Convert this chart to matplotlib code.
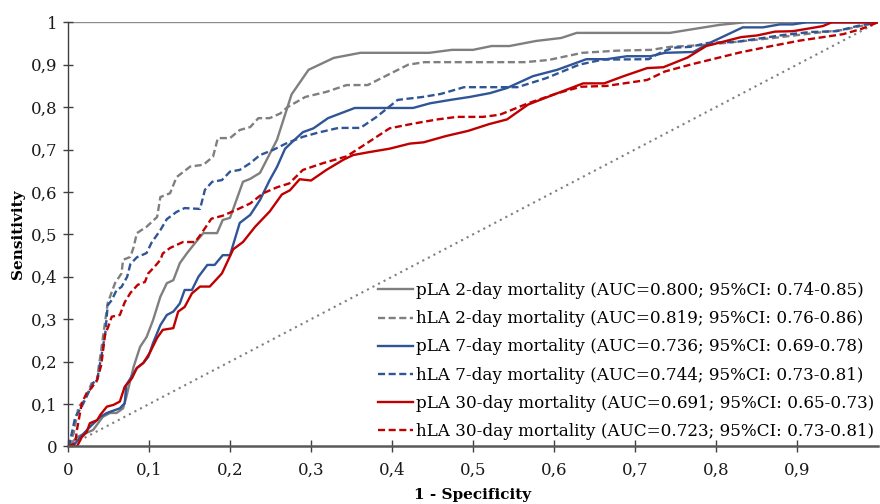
import matplotlib
matplotlib.use('Agg')
import matplotlib.pyplot as plt

plt.rcParams['font.family'] = ['DejaVu Serif']

# ROC points (1 - specificity, sensitivity)
pla2_x = [0, 0.011, 0.031, 0.043, 0.052, 0.06, 0.068, 0.072, 0.081, 0.089, 0.097, 0.105, 0.114,
          0.122, 0.13, 0.138, 0.147, 0.157, 0.167, 0.184, 0.191, 0.2, 0.216, 0.225, 0.237, 0.258,
          0.276, 0.297, 0.328, 0.361, 0.446, 0.474, 0.5, 0.523, 0.545, 0.578, 0.609, 0.628, 0.743,
          0.772, 0.805, 0.836, 1]
pla2_y = [0, 0.022, 0.039, 0.07, 0.079, 0.079, 0.09, 0.117, 0.188, 0.235, 0.258, 0.298, 0.353,
          0.385, 0.392, 0.432, 0.456, 0.48, 0.503, 0.503, 0.534, 0.539, 0.624, 0.631, 0.645, 0.723,
          0.83, 0.888, 0.916, 0.928, 0.928, 0.935, 0.935, 0.944, 0.944, 0.956, 0.963, 0.975, 0.975,
          0.984, 0.994, 1, 1]

hla2_x = [0, 0.007, 0.013, 0.021, 0.029, 0.035, 0.041, 0.049, 0.058, 0.066, 0.068, 0.077, 0.081,
          0.085, 0.097, 0.11, 0.114, 0.126, 0.134, 0.151, 0.167, 0.179, 0.185, 0.2, 0.212, 0.225,
          0.235, 0.249, 0.262, 0.271, 0.293, 0.319, 0.344, 0.37, 0.399, 0.42, 0.44, 0.564, 0.593,
          0.635, 0.677, 0.72, 0.743, 0.781, 0.81, 0.871, 0.923, 0.957, 1]
hla2_y = [0, 0.031, 0.094, 0.11, 0.149, 0.149, 0.228, 0.338, 0.385, 0.408, 0.44, 0.447, 0.47,
          0.503, 0.518, 0.541, 0.588, 0.597, 0.635, 0.66, 0.664, 0.683, 0.727, 0.727, 0.746, 0.753,
          0.774, 0.774, 0.785, 0.8, 0.824, 0.836, 0.852, 0.852, 0.88, 0.9, 0.906, 0.906, 0.911,
          0.928, 0.933, 0.935, 0.942, 0.946, 0.951, 0.963, 0.975, 0.982, 1]

pla7_x = [0, 0.006, 0.015, 0.027, 0.04, 0.048, 0.064, 0.07, 0.072, 0.085, 0.093, 0.099, 0.105,
          0.114, 0.122, 0.13, 0.138, 0.144, 0.153, 0.161, 0.172, 0.181, 0.191, 0.2, 0.212, 0.225,
          0.237, 0.249, 0.258, 0.268, 0.278, 0.29, 0.303, 0.321, 0.354, 0.426, 0.447, 0.472, 0.496,
          0.521, 0.542, 0.574, 0.604, 0.64, 0.665, 0.69, 0.719, 0.737, 0.772, 0.793, 0.833, 0.858,
          0.879, 0.895, 0.912, 1]
pla7_y = [0, 0, 0.022, 0.046, 0.07, 0.079, 0.09, 0.102, 0.145, 0.185, 0.197, 0.211, 0.244,
          0.286, 0.31, 0.318, 0.337, 0.369, 0.369, 0.4, 0.428, 0.428, 0.451, 0.451, 0.527, 0.546,
          0.581, 0.628, 0.659, 0.702, 0.72, 0.741, 0.75, 0.774, 0.798, 0.798, 0.809, 0.817, 0.824,
          0.833, 0.845, 0.873, 0.888, 0.913, 0.913, 0.92, 0.92, 0.928, 0.93, 0.952, 0.988, 0.988,
          0.995, 0.995, 1, 1]

hla7_x = [0, 0.002, 0.009, 0.017, 0.025, 0.031, 0.036, 0.041, 0.046, 0.049, 0.054, 0.06, 0.066,
          0.073, 0.077, 0.085, 0.097, 0.103, 0.114, 0.122, 0.134, 0.144, 0.163, 0.169, 0.178, 0.19,
          0.2, 0.212, 0.225, 0.237, 0.253, 0.27, 0.29, 0.309, 0.334, 0.361, 0.381, 0.407, 0.438,
          0.46, 0.489, 0.555, 0.59, 0.631, 0.66, 0.717, 0.731, 0.747, 0.768, 0.789, 0.826, 0.851,
          0.883, 0.916, 0.949, 0.974, 1]
hla7_y = [0, 0.008, 0.07, 0.094, 0.126, 0.15, 0.157, 0.211, 0.267, 0.333, 0.345, 0.369, 0.376,
          0.4, 0.43, 0.446, 0.456, 0.48, 0.51, 0.536, 0.553, 0.562, 0.56, 0.605, 0.624, 0.628,
          0.648, 0.652, 0.668, 0.687, 0.699, 0.715, 0.73, 0.74, 0.751, 0.751, 0.777, 0.817, 0.824,
          0.831, 0.847, 0.847, 0.868, 0.9, 0.912, 0.913, 0.928, 0.94, 0.942, 0.951, 0.954, 0.961,
          0.97, 0.977, 0.979, 0.991, 1]

pla30_x = [0, 0.005, 0.011, 0.017, 0.023, 0.027, 0.036, 0.04, 0.048, 0.056, 0.064, 0.07, 0.079,
           0.085, 0.093, 0.101, 0.11, 0.117, 0.13, 0.136, 0.144, 0.153, 0.163, 0.175, 0.19, 0.204,
           0.216, 0.231, 0.249, 0.264, 0.274, 0.286, 0.3, 0.319, 0.34, 0.352, 0.372, 0.397, 0.422,
           0.439, 0.467, 0.494, 0.52, 0.542, 0.568, 0.595, 0.636, 0.662, 0.686, 0.715, 0.735, 0.765,
           0.788, 0.831, 0.851, 0.873, 0.895, 0.932, 0.943, 1]
pla30_y = [0, 0, 0, 0.022, 0.034, 0.055, 0.062, 0.075, 0.094, 0.098, 0.106, 0.141, 0.161,
           0.185, 0.197, 0.221, 0.256, 0.275, 0.279, 0.318, 0.329, 0.361, 0.377, 0.377, 0.408, 0.465,
           0.482, 0.518, 0.554, 0.594, 0.604, 0.63, 0.627, 0.652, 0.676, 0.687, 0.694, 0.702, 0.714,
           0.717, 0.732, 0.744, 0.76, 0.771, 0.806, 0.826, 0.856, 0.856, 0.873, 0.892, 0.894, 0.917,
           0.944, 0.965, 0.969, 0.978, 0.979, 0.991, 1, 1]

hla30_x = [0, 0.009, 0.011, 0.017, 0.023, 0.029, 0.036, 0.041, 0.046, 0.049, 0.054, 0.064, 0.07,
           0.077, 0.086, 0.095, 0.099, 0.107, 0.114, 0.117, 0.126, 0.142, 0.157, 0.165, 0.177, 0.191,
           0.208, 0.225, 0.241, 0.258, 0.273, 0.29, 0.315, 0.344, 0.369, 0.397, 0.426, 0.456, 0.48,
           0.512, 0.533, 0.568, 0.603, 0.633, 0.665, 0.69, 0.715, 0.737, 0.77, 0.8, 0.83, 0.866,
           0.904, 0.957, 0.979, 1]
hla30_y = [0, 0.008, 0.039, 0.102, 0.126, 0.138, 0.157, 0.192, 0.267, 0.279, 0.306, 0.31, 0.34,
           0.362, 0.381, 0.388, 0.408, 0.424, 0.44, 0.455, 0.468, 0.482, 0.482, 0.503, 0.537, 0.544,
           0.558, 0.573, 0.597, 0.611, 0.62, 0.652, 0.668, 0.684, 0.715, 0.75, 0.761, 0.771, 0.777,
           0.777, 0.782, 0.809, 0.832, 0.848, 0.85, 0.857, 0.864, 0.884, 0.901, 0.915, 0.929, 0.943,
           0.957, 0.972, 0.984, 1]

labels = ['pLA 2-day mortality (AUC=0.800; 95%CI: 0.74-0.85)',
          'hLA 2-day mortality (AUC=0.819; 95%CI: 0.76-0.86)',
          'pLA 7-day mortality (AUC=0.736; 95%CI: 0.69-0.78)',
          'hLA 7-day mortality (AUC=0.744; 95%CI: 0.73-0.81)',
          'pLA 30-day mortality (AUC=0.691; 95%CI: 0.65-0.73)',
          'hLA 30-day mortality (AUC=0.723; 95%CI: 0.73-0.81)']

gray = '#7f7f7f'
blue = '#2f5597'
red = '#c00000'
dash = (3.0, 1.5)
lw = 1.7

fig = plt.figure(figsize=(8.8, 5.04), dpi=100)
ax = fig.add_axes([0.0773, 0.1141, 0.9204, 0.8417])

ax.plot([0, 1], [0, 1], color=gray, lw=1.5, dashes=(1, 2), zorder=1)
ax.plot(pla2_x, pla2_y, color=gray, lw=lw, label=labels[0])
ax.plot(hla2_x, hla2_y, color=gray, lw=lw, dashes=dash, label=labels[1])
ax.plot(pla7_x, pla7_y, color=blue, lw=lw, label=labels[2])
ax.plot(hla7_x, hla7_y, color=blue, lw=lw, dashes=dash, label=labels[3])
ax.plot(pla30_x, pla30_y, color=red, lw=lw, label=labels[4])
ax.plot(hla30_x, hla30_y, color=red, lw=lw, dashes=dash, label=labels[5])

ax.set_xlim(0, 1)
ax.set_ylim(0, 1)
ax.axhline(1, color='#8c8c8c', lw=1.0, zorder=0)

yt = [i / 10 for i in range(11)]
ax.set_yticks(yt)
ax.set_yticklabels(['0'] + ['0,%d' % i for i in range(1, 10)] + ['1'])
xt = [i / 10 for i in range(10)]
ax.set_xticks(xt)
ax.set_xticklabels(['0'] + ['0,%d' % i for i in range(1, 10)])

for s in ['top', 'right']:
    ax.spines[s].set_visible(False)
ax.spines['left'].set_color('#404040')
ax.spines['left'].set_linewidth(1.0)
ax.spines['bottom'].set_color('#595959')
ax.spines['bottom'].set_linewidth(1.8)
ax.tick_params(axis='y', direction='inout', length=7, width=1.0, color='#404040',
               labelsize=12, pad=4, labelcolor='#1a1a1a')
ax.tick_params(axis='x', direction='inout', length=8, width=1.0, color='#404040',
               labelsize=12, pad=7, labelcolor='#1a1a1a')

ax.set_xlabel('1 - Specificity', fontsize=11, fontweight='bold', labelpad=7)
ax.set_ylabel('Sensitivity', fontsize=11, fontweight='bold', labelpad=4)

ax.legend(loc='lower right', bbox_to_anchor=(1.004, 0.0), frameon=False, fontsize=12.1,
          handlelength=2.1, handletextpad=0.2, labelspacing=0.66, borderaxespad=0.0)

fig.savefig('out.png', dpi=100)
